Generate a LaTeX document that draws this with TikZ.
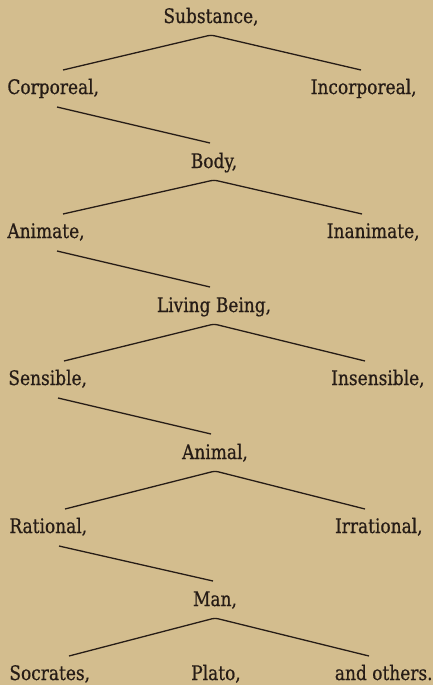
\documentclass[tikz,border=0pt]{standalone}
\usepackage{fontspec}
\setmainfont{DejaVu Serif}[FakeStretch=0.85, FakeBold=0.6]
\usepackage{xcolor}
\usepackage{tikz}
\definecolor{paper}{RGB}{211,189,142}
\definecolor{ink}{RGB}{38,28,22}

\begin{document}
\begin{tikzpicture}[
    x=0.5pt, y=-0.5pt,
    word/.style={
        inner sep=0pt,
        text=ink,
        font=\fontsize{10}{12}\selectfont
    },
    genus/.style={word, anchor=base},
    leftsp/.style={word, anchor=base west},
    rightsp/.style={word, anchor=base east},
    branch/.style={draw=ink, line width=0.65pt, rounded corners=1.5pt}
]
\fill[paper] (0,0) rectangle (433,685);

\node[genus] (substance) at (211,23) {Substance,};
\node[leftsp] (corporeal) at (7,94) {Corporeal,};
\node[rightsp] (incorporeal) at (417,94) {Incorporeal,};

\node[genus] (body) at (214,168) {Body,};
\node[leftsp] (animate) at (7,238) {Animate,};
\node[rightsp] (inanimate) at (420,238) {Inanimate,};

\node[genus] (living) at (214,312) {Living Being,};
\node[leftsp] (sensible) at (8,385) {Sensible,};
\node[rightsp] (insensible) at (425,385) {Insensible,};

\node[genus] (animal) at (215,459) {Animal,};
\node[leftsp] (rational) at (9,533) {Rational,};
\node[rightsp] (irrational) at (423,533) {Irrational,};

\node[genus] (man) at (215,606) {Man,};
\node[leftsp] (socrates) at (9,680) {Socrates,};
\node[genus] (plato) at (216,680) {Plato,};
\node[rightsp] (others) at (433,680) {and others.};

\draw[branch] ([xshift=28pt,yshift=12pt]corporeal.base west) -- ([yshift=-6pt]substance.base) -- ([xshift=-28pt,yshift=12pt]incorporeal.base east);
\draw[branch] ([xshift=25pt,yshift=-6.5pt]corporeal.base west) -- ([xshift=-2pt,yshift=12.5pt]body.base);

\draw[branch] ([xshift=28pt,yshift=12pt]animate.base west) -- ([yshift=-6pt]body.base) -- ([xshift=-29pt,yshift=12pt]inanimate.base east);
\draw[branch] ([xshift=25pt,yshift=-6.5pt]animate.base west) -- ([xshift=-2pt,yshift=12.5pt]living.base);

\draw[branch] ([xshift=28pt,yshift=12pt]sensible.base west) -- ([yshift=-6pt]living.base) -- ([xshift=-30pt,yshift=12pt]insensible.base east);
\draw[branch] ([xshift=25pt,yshift=-6.5pt]sensible.base west) -- ([xshift=-2pt,yshift=12.5pt]animal.base);

\draw[branch] ([xshift=28pt,yshift=12pt]rational.base west) -- ([yshift=-6pt]animal.base) -- ([xshift=-29pt,yshift=12pt]irrational.base east);
\draw[branch] ([xshift=25pt,yshift=-6.5pt]rational.base west) -- ([xshift=-1pt,yshift=12.5pt]man.base);

\draw[branch] ([xshift=30pt,yshift=12pt]socrates.base west) -- ([yshift=-6pt]man.base) -- ([xshift=-32pt,yshift=12pt]others.base east);
\end{tikzpicture}
\end{document}
